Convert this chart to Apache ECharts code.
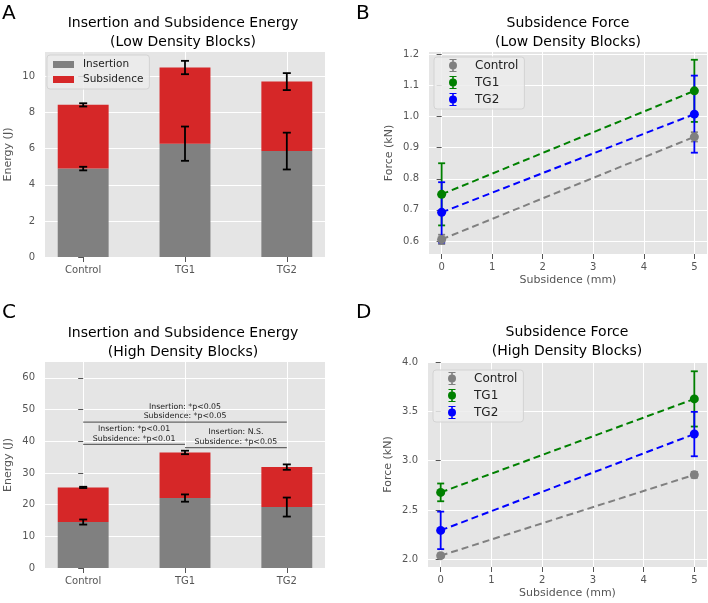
<!DOCTYPE html>
<html><head><meta charset="utf-8">
<script src="https://cdn.jsdelivr.net/npm/echarts@6/dist/echarts.min.js"></script>
<style>html,body{margin:0;padding:0;background:#fff}#c{width:708px;height:603px}</style>
</head><body><div id="c"></div>
<script>
// ---------- data ----------
const categories = ['Control', 'TG1', 'TG2'];
const categoryPos = [0, 1, 2];

// Panel A: low density energy (J)
const lowInsertion = [4.90, 6.28, 5.87];
const lowInsertionErr = [0.10, 0.95, 1.02];
const lowSubsidence = [3.53, 4.22, 3.85];
const lowSubsidenceErr = [0.09, 0.37, 0.47];
const lowEnergyTicks = [0, 2, 4, 6, 8, 10];

// Panel C: high density energy (J)
const highInsertion = [14.50, 22.07, 19.23];
const highInsertionErr = [0.80, 1.15, 3.00];
const highSubsidence = [10.93, 14.39, 12.61];
const highSubsidenceErr = [0.20, 0.55, 0.85];
const highEnergyTicks = [0, 10, 20, 30, 40, 50, 60];

// significance brackets in panel C
const sigFrom = [0, 0, 1];
const sigTo = [2, 1, 2];
const sigLevel = [46, 39, 38];
const sigLine1 = ['Insertion: *p<0.05', 'Insertion: *p<0.01', 'Insertion: N.S.'];
const sigLine2 = ['Subsidence: *p<0.05', 'Subsidence: *p<0.01', 'Subsidence: *p<0.05'];

// Panels B/D: force (kN) vs subsidence (mm)
const groups = ['Control', 'TG1', 'TG2'];
const subsidenceMm = [0, 5];
const mmTicks = [0, 1, 2, 3, 4, 5];
const lowForceControl = [0.605, 0.935];
const lowForceControlErr = [0.015, 0.015];
const lowForceTG1 = [0.750, 1.083];
const lowForceTG1Err = [0.100, 0.100];
const lowForceTG2 = [0.692, 1.008];
const lowForceTG2Err = [0.097, 0.124];
const lowForceTicks = [0.6, 0.7, 0.8, 0.9, 1.0, 1.1, 1.2];

const highForceControl = [2.038, 2.857];
const highForceControlErr = [0.020, 0.030];
const highForceTG1 = [2.679, 3.626];
const highForceTG1Err = [0.090, 0.280];
const highForceTG2 = [2.294, 3.270];
const highForceTG2Err = [0.190, 0.225];
const highForceTicks = [2.0, 2.5, 3.0, 3.5, 4.0];

// ---------- style ----------
const FONT = 'DejaVu Sans';
const BG = '#E5E5E5';
const TICKC = '#555555';
const GREY = '#808080', RED = '#D62728', GREEN = '#008000', BLUE = '#0000FF';
const groupColors = [GREY, GREEN, BLUE];
const BAR_W = 0.5; // bar width in category units

const chart = echarts.init(document.getElementById('c'), null, {renderer: 'canvas'});

function xAxisCfg(gi, min, max, ticks, fmt, name, nameGap) {
  return {
    type: 'value', gridIndex: gi, min, max,
    axisLine: {show: false},
    axisTick: {show: true, length: 5, customValues: ticks, lineStyle: {color: TICKC, width: 1}},
    axisLabel: {customValues: ticks, formatter: fmt, color: TICKC, fontFamily: FONT, fontSize: 10, margin: 8},
    splitLine: {show: true, lineStyle: {color: '#fff', width: 1}},
    name: name || '', nameLocation: 'middle', nameGap: nameGap || 0,
    nameTextStyle: {color: TICKC, fontFamily: FONT, fontSize: 11}
  };
}
function yAxisCfg(gi, min, max, ticks, fmt, name, nameGap) {
  return {
    type: 'value', gridIndex: gi, min, max,
    axisLine: {show: false},
    axisTick: {show: true, length: 5, customValues: ticks, lineStyle: {color: TICKC, width: 1}},
    axisLabel: {customValues: ticks, formatter: fmt, color: TICKC, fontFamily: FONT, fontSize: 10, margin: 10},
    splitLine: {show: true, lineStyle: {color: '#fff', width: 1}},
    name, nameLocation: 'middle', nameGap, nameRotate: 90,
    nameTextStyle: {color: TICKC, fontFamily: FONT, fontSize: 11}
  };
}

function errSeries(xi, data, color, capW, lw, z) {
  return {
    type: 'custom', xAxisIndex: xi, yAxisIndex: xi, silent: true, z: z || 5,
    encode: {x: 0, y: 1},
    renderItem(params, api) {
      const x = api.value(0), y = api.value(1), e = api.value(2);
      const t = api.coord([x, y + e]), b = api.coord([x, y - e]);
      const s = {stroke: color, lineWidth: lw};
      return {type: 'group', children: [
        {type: 'line', shape: {x1: t[0], y1: t[1], x2: b[0], y2: b[1]}, style: s},
        {type: 'line', shape: {x1: t[0] - capW / 2, y1: t[1], x2: t[0] + capW / 2, y2: t[1]}, style: s},
        {type: 'line', shape: {x1: b[0] - capW / 2, y1: b[1], x2: b[0] + capW / 2, y2: b[1]}, style: s}
      ]};
    },
    data
  };
}

// stacked bar drawn through the axis scales: [x, base, value]
function barSeries(gi, name, color, data) {
  return {
    type: 'custom', name, xAxisIndex: gi, yAxisIndex: gi, z: 2,
    itemStyle: {color},
    encode: {x: 0, y: [1, 2]},
    renderItem(params, api) {
      const x = api.value(0), b = api.value(1), v = api.value(2);
      const p0 = api.coord([x - BAR_W / 2, b]);
      const p1 = api.coord([x + BAR_W / 2, b + v]);
      return {type: 'rect', shape: {x: p0[0], y: p1[1], width: p1[0] - p0[0], height: p0[1] - p1[1]},
        style: {fill: color}};
    },
    data
  };
}

const series = [];
function barPanel(gi, ins, insErr, sub, subErr) {
  series.push(barSeries(gi, 'Insertion', GREY, categoryPos.map((x, i) => [x, 0, ins[i]])));
  series.push(barSeries(gi, 'Subsidence', RED, categoryPos.map((x, i) => [x, ins[i], sub[i]])));
  series.push(errSeries(gi, categoryPos.map((x, i) => [x, ins[i], insErr[i]]), '#000', 8, 1.8));
  series.push(errSeries(gi, categoryPos.map((x, i) => [x, ins[i] + sub[i], subErr[i]]), '#000', 8, 1.8));
}
barPanel(0, lowInsertion, lowInsertionErr, lowSubsidence, lowSubsidenceErr);
barPanel(2, highInsertion, highInsertionErr, highSubsidence, highSubsidenceErr);

// significance brackets
series.push({
  type: 'custom', xAxisIndex: 2, yAxisIndex: 2, silent: true, z: 6,
  encode: {x: 0, y: 2},
  renderItem(params, api) {
    const i = params.dataIndex;
    const a = api.coord([api.value(0), api.value(2)]);
    const b = api.coord([api.value(1), api.value(2)]);
    return {type: 'group', children: [
      {type: 'line', shape: {x1: a[0], y1: a[1], x2: b[0], y2: b[1]}, style: {stroke: '#666', lineWidth: 1.3}},
      {type: 'text', x: (a[0] + b[0]) / 2, y: a[1] - 1,
        style: {text: sigLine1[i] + '\n' + sigLine2[i], textAlign: 'center', textVerticalAlign: 'bottom',
          font: '7.8px "' + FONT + '"', lineHeight: 9.8, fill: '#222'}}
    ]};
  },
  data: sigFrom.map((f, i) => [f, sigTo[i], sigLevel[i]])
});

// force panels B (grid 1) and D (grid 3)
function forcePanel(gi, vals, errs) {
  vals.forEach((v, k) => {
    series.push(errSeries(gi, subsidenceMm.map((x, j) => [x, v[j], errs[k][j]]), groupColors[k], 7, 1.8, 3));
    series.push({type: 'line', name: groups[k], xAxisIndex: gi, yAxisIndex: gi, z: 4,
      symbol: 'circle', symbolSize: 9, itemStyle: {color: groupColors[k]},
      lineStyle: {color: groupColors[k], width: 2, type: [7, 4]},
      data: subsidenceMm.map((x, j) => [x, v[j]])});
  });
}
forcePanel(1, [lowForceControl, lowForceTG1, lowForceTG2], [lowForceControlErr, lowForceTG1Err, lowForceTG2Err]);
forcePanel(3, [highForceControl, highForceTG1, highForceTG2], [highForceControlErr, highForceTG1Err, highForceTG2Err]);

const errIcon = 'path://M5,0H75V10H5Z M32,0H48V130H32Z M5,120H75V130H5Z M40,25A40,40 0 1 1 40,105A40,40 0 1 1 40,25Z';
const catFmt = v => categories[Math.round(v)];
const f1 = v => v.toFixed(1);
const f0 = v => String(Math.round(v));

const legendBox = {backgroundColor: 'rgba(236,236,236,0.85)', borderColor: '#d3d3d3', borderWidth: 1, borderRadius: 3};

const option = {
  animation: false,
  backgroundColor: '#fff',
  grid: [
    {left: 45, top: 52, width: 280, height: 205, show: true, backgroundColor: BG, borderWidth: 0},
    {left: 429, top: 52, width: 278, height: 202, show: true, backgroundColor: BG, borderWidth: 0},
    {left: 45, top: 362, width: 280, height: 206, show: true, backgroundColor: BG, borderWidth: 0},
    {left: 428, top: 362, width: 279, height: 205, show: true, backgroundColor: BG, borderWidth: 0}
  ],
  xAxis: [
    xAxisCfg(0, -0.375, 2.375, categoryPos, catFmt),
    xAxisCfg(1, -0.25, 5.25, mmTicks, f0, 'Subsidence (mm)', 21),
    xAxisCfg(2, -0.375, 2.375, categoryPos, catFmt),
    xAxisCfg(3, -0.25, 5.25, mmTicks, f0, 'Subsidence (mm)', 21)
  ],
  yAxis: [
    yAxisCfg(0, 0, 11.36, lowEnergyTicks, f0, 'Energy (J)', 31),
    yAxisCfg(1, 0.558, 1.208, lowForceTicks, f1, 'Force (kN)', 34),
    yAxisCfg(2, 0, 65, highEnergyTicks, f0, 'Energy (J)', 31),
    yAxisCfg(3, 1.923, 4.0, highForceTicks, f1, 'Force (kN)', 34)
  ],
  legend: [
    Object.assign({left: 47, top: 55, orient: 'vertical', padding: [4, 6, 4, 6], itemGap: 4,
      itemWidth: 21, itemHeight: 7, icon: 'rect', data: ['Insertion', 'Subsidence'],
      textStyle: {fontFamily: FONT, fontSize: 10.5, color: '#222', padding: [0, 0, 0, 4]}}, legendBox),
    Object.assign({left: 434, top: 57, orient: 'vertical', padding: [2, 6, 3, 15], itemGap: 4,
      itemWidth: 8, itemHeight: 13, data: groups.map(g => ({name: g, icon: errIcon})),
      textStyle: {fontFamily: FONT, fontSize: 12, color: '#222', padding: [0, 0, 0, 13]}}, legendBox),
    Object.assign({left: 433, top: 370, orient: 'vertical', padding: [2, 6, 3, 15], itemGap: 4,
      itemWidth: 8, itemHeight: 13, data: groups.map(g => ({name: g, icon: errIcon})),
      textStyle: {fontFamily: FONT, fontSize: 12, color: '#222', padding: [0, 0, 0, 13]}}, legendBox)
  ],
  graphic: [
    {type: 'text', x: 183, y: 14, style: {text: 'Insertion and Subsidence Energy\n(Low Density Blocks)', textAlign: 'center', font: '14px "' + FONT + '"', lineHeight: 19, fill: '#000'}},
    {type: 'text', x: 568, y: 14, style: {text: 'Subsidence Force\n(Low Density Blocks)', textAlign: 'center', font: '14px "' + FONT + '"', lineHeight: 19, fill: '#000'}},
    {type: 'text', x: 183, y: 324, style: {text: 'Insertion and Subsidence Energy\n(High Density Blocks)', textAlign: 'center', font: '14px "' + FONT + '"', lineHeight: 19, fill: '#000'}},
    {type: 'text', x: 567, y: 323, style: {text: 'Subsidence Force\n(High Density Blocks)', textAlign: 'center', font: '14px "' + FONT + '"', lineHeight: 19, fill: '#000'}},
    {type: 'text', x: 2, y: 4, style: {text: 'A', font: '20px "' + FONT + '"', fill: '#000'}},
    {type: 'text', x: 356, y: 4, style: {text: 'B', font: '20px "' + FONT + '"', fill: '#000'}},
    {type: 'text', x: 2, y: 303, style: {text: 'C', font: '20px "' + FONT + '"', fill: '#000'}},
    {type: 'text', x: 356, y: 303, style: {text: 'D', font: '20px "' + FONT + '"', fill: '#000'}}
  ],
  series
};
chart.setOption(option);
</script></body></html>
